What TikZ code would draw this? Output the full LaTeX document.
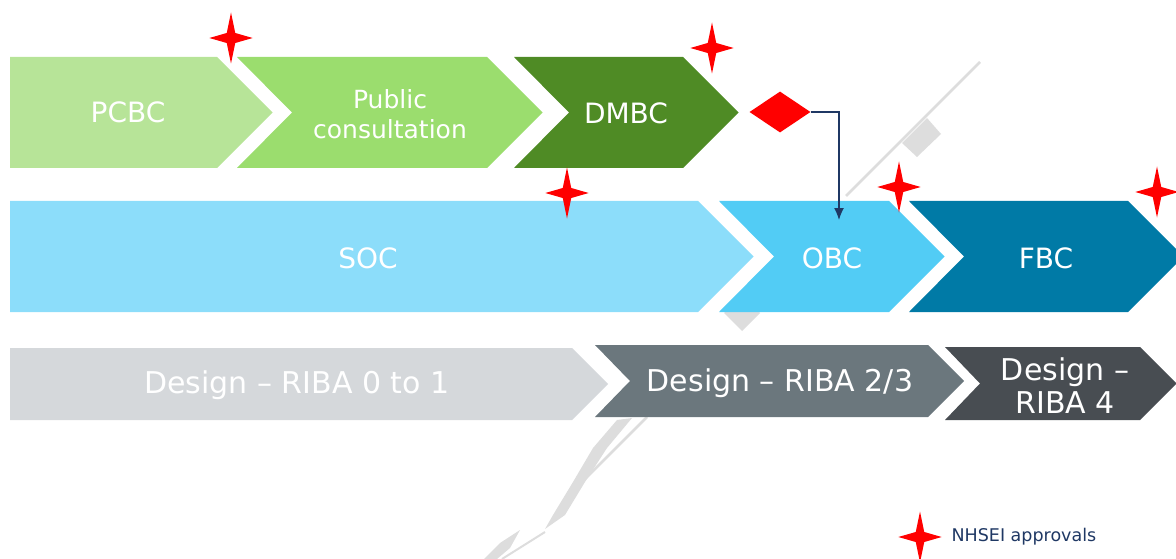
\documentclass[tikz,border=0pt]{standalone}
\usepackage{fontspec}
\setmainfont{DejaVu Sans}
\usetikzlibrary{shapes.geometric,positioning,arrows.meta}

\definecolor{pcbcgreen}{RGB}{183,228,152}
\definecolor{consgreen}{RGB}{155,221,110}
\definecolor{dmbcgreen}{RGB}{79,139,37}
\definecolor{socblue}{RGB}{140,221,250}
\definecolor{obcblue}{RGB}{82,204,245}
\definecolor{fbcblue}{RGB}{0,122,166}
\definecolor{ribalight}{RGB}{213,216,219}
\definecolor{ribamid}{RGB}{107,119,125}
\definecolor{ribadark}{RGB}{72,77,82}
\definecolor{keynavy}{RGB}{31,56,100}
\definecolor{backgrey}{RGB}{221,221,221}

% left, right, top, bottom, notch, colour
\newcommand{\chevron}[6]{%
  \fill[#6] (#1,#3) -- (#2,#3) -- ({#2+(#4-#3)/2},{(#3+#4)/2}) -- (#2,#4)
    -- (#1,#4) -- ({#1+#5},{(#3+#4)/2}) -- cycle;}

\begin{document}
\begin{tikzpicture}[x=1pt,y=-1pt,
  phase/.style={text=white,inner sep=0pt,align=center,
                font=\fontsize{28}{32}\selectfont},
  design/.style={phase,font=\fontsize{30}{33}\selectfont},
  approval/.style={star,star points=4,star point ratio=3.6,fill=red,
                   inner sep=0pt,minimum size=51pt,xscale=0.85},
  gate/.style={diamond,fill=red,inner sep=0pt,
               minimum width=61pt,minimum height=41pt},
  backline/.style={draw=backgrey,line width=2.5pt}]
\useasboundingbox (0,0) rectangle (1176,559);

\draw[backline] (980,62) -- (846,196);
\fill[backgrey] (902,143) -- (927,118) -- (941,134) -- (917,157) -- cycle;
\fill[backgrey] (742,295) -- (760,313) -- (742,331) -- (724,313) -- cycle;
\fill[backgrey] (617,420) -- (632,418) -- (607,448) -- (585,482) -- (565,515)
  -- (545,529) -- (553,515) -- (573,482) -- (593,448) -- cycle;
\draw[backline] (647,417) -- (584,480);
\fill[backgrey] (520,530) -- (510,548) -- (497,559) -- (484,559) -- (500,543) -- cycle;
\draw[backline,line width=2pt] (545,532) -- (502,559);

\chevron{10}{217}{57}{168}{0}{pcbcgreen}
\chevron{237}{487}{57}{168}{55}{consgreen}
\chevron{514}{683}{57}{168}{55}{dmbcgreen}
\chevron{10}{698}{201}{312}{0}{socblue}
\chevron{719}{889}{201}{312}{55}{obcblue}
\chevron{909}{1128}{201}{312}{55}{fbcblue}
\chevron{10}{572}{348}{420}{0}{ribalight}
\chevron{595}{928}{345}{417}{35}{ribamid}
\chevron{945}{1140}{347}{420}{35}{ribadark}

\node[phase] (pcbc) at (128,112) {PCBC};
\node[phase,font=\fontsize{25}{30}\selectfont] (cons) at (390,114) {Public\\consultation};
\node[phase] (dmbc) at (626,113) {DMBC};
\node[phase] (soc) at (368,258) {SOC};
\node[phase] (obc) at (832,258) {OBC};
\node[phase] (fbc) at (1046,258) {FBC};
\node[design] (riba01) at (297,385) {Design – RIBA 0 to 1};
\node[design] (riba23) at (780,383) {Design – RIBA 2/3};
\node[design] (riba4) at (1065,386) {Design –\\RIBA 4};

\node[gate] (decision) at (780,112) {};
\coordinate (obcin) at (839,220);
\draw[-{Latex[length=12pt,width=10pt]},keynavy,line width=1.3pt] (decision.east) -| (obcin);

\node[approval] (ap1) at (231,38) {};
\node[approval] (ap2) at (712,48) {};
\node[approval] (ap3) at (567,193) {};
\node[approval] (ap4) at (899,187) {};
\node[approval] (ap5) at (1157,192) {};
\node[approval] (key) at (920,537) {};
\node[right=9pt of key,inner sep=0pt,text=keynavy,
      font=\fontsize{17.5}{20}\selectfont] (keytext) {NHSEI approvals};
\end{tikzpicture}
\end{document}
